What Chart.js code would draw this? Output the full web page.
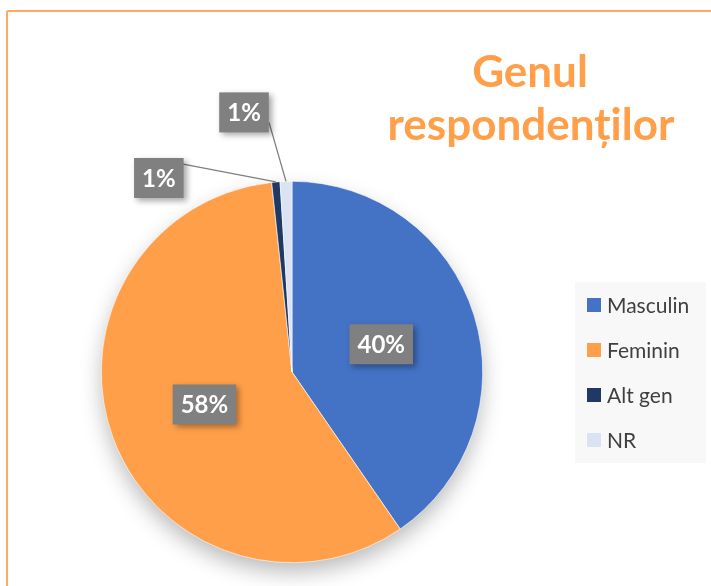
<!DOCTYPE html>
<html>
<head>
<meta charset="utf-8">
<script src="https://cdn.jsdelivr.net/npm/chart.js@4/dist/chart.umd.min.js"></script>
<style>
html,body{margin:0;padding:0;background:#fff;}
#wrap{position:relative;width:711px;height:586px;overflow:hidden;}
#frame{position:absolute;left:6px;top:10px;width:800px;height:700px;border:2px solid #FFAA60;box-sizing:border-box;border-radius:2px;}
canvas{position:absolute;left:0;top:0;}
</style>
</head>
<body>
<div id="wrap">
<div id="frame"></div>
<canvas id="c" width="711" height="586"></canvas>
</div>
<script>
const categories = ["Masculin", "Feminin", "Alt gen", "NR"];
const values = [40.4, 57.9, 0.7, 1.0];
const labelsText = ["40%", "58%", "1%", "1%"];
const colors = ["#4472C4", "#FF9F4A", "#203864", "#DAE3F3"];
const titleLines = ["Genul", "respondenților"];

const FONT = "Lato, 'Open Sans', 'Liberation Sans', sans-serif";

const shadowPlugin = {
  id: 'pieShadow',
  beforeDatasetsDraw(chart) {
    const arc = chart.getDatasetMeta(0).data[0];
    if (!arc) return;
    const ctx = chart.ctx;
    ctx.save();
    ctx.shadowColor = 'rgba(0,0,0,0.28)';
    ctx.shadowBlur = 22;
    ctx.shadowOffsetY = 10;
    ctx.fillStyle = '#ffffff';
    ctx.beginPath();
    ctx.arc(arc.x, arc.y, arc.outerRadius - 1, 0, Math.PI * 2);
    ctx.fill();
    ctx.restore();
  }
};

function drawBox(ctx, cx, cy, text) {
  ctx.save();
  ctx.font = "bold 24px " + FONT;
  const w = ctx.measureText(text).width + 16;
  const h = 40;
  ctx.shadowColor = 'rgba(0,0,0,0.35)';
  ctx.shadowBlur = 6;
  ctx.shadowOffsetX = 3;
  ctx.shadowOffsetY = 3;
  ctx.fillStyle = '#808080';
  ctx.fillRect(cx - w / 2, cy - h / 2, w, h);
  ctx.shadowColor = 'transparent';
  ctx.fillStyle = '#ffffff';
  ctx.textAlign = 'center';
  ctx.textBaseline = 'middle';
  ctx.fillText(text, cx, cy + 1);
  ctx.restore();
  return {w, h};
}

const labelPlugin = {
  id: 'labels',
  afterDatasetsDraw(chart) {
    const ctx = chart.ctx;
    const meta = chart.getDatasetMeta(0);
    [0, 1].forEach(i => {
      const a = meta.data[i];
      const mid = (a.startAngle + a.endAngle) / 2;
      const r = a.outerRadius * 0.49;
      drawBox(ctx, a.x + Math.cos(mid) * r, a.y + Math.sin(mid) * r, labelsText[i]);
    });
    const outs = [{i: 2, dx: -117, dy: -4}, {i: 3, dx: -42, dy: -69}];
    outs.forEach(o => {
      const a = meta.data[o.i];
      const mid = (a.startAngle + a.endAngle) / 2;
      const px = a.x + Math.cos(mid) * a.outerRadius;
      const py = a.y + Math.sin(mid) * a.outerRadius;
      const bx = px + o.dx, by = py + o.dy;
      ctx.save();
      ctx.strokeStyle = '#7F7F7F';
      ctx.lineWidth = 1.3;
      ctx.beginPath();
      if (o.i === 2) {
        ctx.moveTo(bx + 23, by - 14);
      } else {
        ctx.moveTo(bx + 25, by + 10);
      }
      ctx.lineTo(px, py);
      ctx.stroke();
      ctx.restore();
      drawBox(ctx, bx, by, labelsText[o.i]);
    });
  }
};

const decorPlugin = {
  id: 'decor',
  afterDraw(chart) {
    const ctx = chart.ctx;
    ctx.save();
    ctx.fillStyle = '#FF9F4A';
    ctx.font = "bold 44px " + FONT;
    ctx.textAlign = 'center';
    ctx.textBaseline = 'alphabetic';
    ctx.fillText(titleLines[0], 530, 87);
    ctx.fillText(titleLines[1], 531, 140);
    ctx.fillStyle = '#F8F8F8';
    ctx.fillRect(575, 282, 131, 181);
    ctx.font = "21px " + FONT;
    ctx.textAlign = 'left';
    ctx.textBaseline = 'middle';
    categories.forEach((c, i) => {
      const y = 305 + i * 45;
      ctx.fillStyle = colors[i];
      ctx.fillRect(587, y - 7, 14, 14);
      ctx.fillStyle = '#404040';
      ctx.fillText(c, 607, y + 1);
    });
    ctx.restore();
  }
};

new Chart(document.getElementById('c'), {
  type: 'pie',
  data: {
    labels: categories,
    datasets: [{
      data: values,
      backgroundColor: colors,
      borderColor: '#ffffff',
      borderWidth: 0.6
    }]
  },
  options: {
    responsive: false,
    animation: false,
    layout: {padding: {left: 101, right: 228, top: 181, bottom: 23}},
    plugins: {
      legend: {display: false},
      tooltip: {enabled: false},
      title: {display: false}
    }
  },
  plugins: [shadowPlugin, labelPlugin, decorPlugin]
});
</script>
</body>
</html>
